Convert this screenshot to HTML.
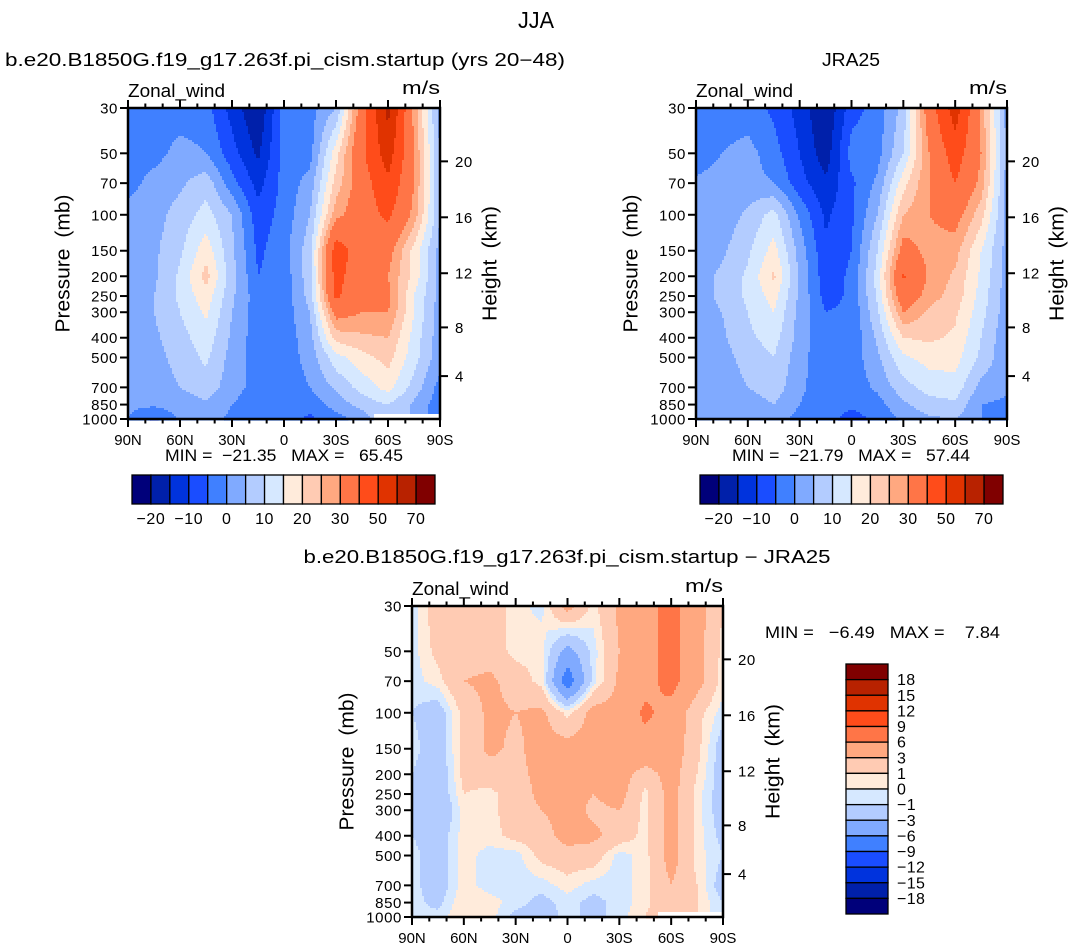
<!DOCTYPE html>
<html><head><meta charset="utf-8"><style>
html,body{margin:0;padding:0;background:#fff}
svg{display:block;font-family:"Liberation Sans",sans-serif}
</style></head><body>
<svg id="fig" width="1073" height="949" viewBox="0 0 1073 949" xmlns="http://www.w3.org/2000/svg">
<text x="536" y="28" font-size="23" text-anchor="middle" textLength="36" lengthAdjust="spacingAndGlyphs">JJA</text>
</svg>
<script>
const lats = [90,75,60,45,30,15,0,-15,-30,-45,-60,-75,-90];
const levels = [30,50,70,100,150,200,250,300,400,500,700,850,1000];
const modelWind = [
[-3,-3,-3,-3,-12,-20,-3,-2,5,35,63,28,2],
[-3,-2,2,0,-8,-16,-3,-2,18,38,55,30,5],
[-2,2,4,8,-3,-12,-3,2,22,35,48,30,5],
[2,3,7,12,5,-8,-3,5,28,35,42,28,5],
[2,4,9,18,6,-6,-2,8,45,35,33,18,3],
[2,4,11,22,7,-5,-3,8,44,32,30,18,3],
[2,5,11,18,6,-3,-3,7,42,30,32,15,3],
[2,5,10,16,5,-3,-3,5,33,30,30,15,2],
[1,4,8,13,4,-3,-3,3,22,24,25,13,2],
[1,3,7,11,3,-3,-3,2,13,18,22,12,2],
[1,2,5,8,2,-2,-3,0,6,12,17,8,-2],
[1,1,2,4,0,-3,-3,-3,2,7,10,4,-3],
[0,-6,1,2,-1,-3,-3,-6,-2,2,null,null,null]];
const obsWind = [
[-3,-3,-3,-6,-12,-20,-7,-3,7,35,55,28,3],
[-3,0,2,-3,-10,-18,-3,-2,10,30,45,30,3],
[1,2,2,0,-8,-14,-6,1,18,30,40,28,3],
[1,2,6,12,-1,-11,-6,5,25,30,33,22,3],
[2,4,9,17,3,-9,-5,10,33,28,27,15,3],
[3,6,11,21,4,-8,-4,12,41,29,24,14,3],
[3,6,11,17,4,-7,-4,11,36,27,23,13,2],
[3,5,10,15,3,-5,-4,9,30,24,21,12,2],
[2,4,9,12,3,-4,-4,6,20,21,19,10,1],
[1,3,7,10,2,-4,-3,4,14,17,17,9,1],
[1,2,5,8,1,-3,-3,1,8,12,13,3,1],
[1,1,2,5,0,-3,-4,-2,4,8,9,0,-1],
[0,1,1,3,-2,-3,-7,-4,1,4,5,0,-2]];
const diffWind = [
[-0.5,2,2.5,2,0.3,-0.3,4,0.5,3.5,5,7,4,1],
[-0.5,1.5,2,2,0.5,0.5,-4,-0.5,3,5,7,4,0.5],
[-0.5,0.5,3,3.5,2,0.5,-8,-0.5,3.5,5,7,4,0.3],
[-1,-2,1.5,3.5,3,3.5,0.5,4,4,6.5,5,1.5,-0.5],
[-0.5,-2,1.5,3.5,2.5,4,4,4,6,5,4.5,1.5,-2],
[-1,-2.5,1.5,2,2.5,3.5,6,4,4,2,4,1,-2],
[-1,-2.5,1,0.5,2,3.5,4,3,4,0.5,4,0.5,-2],
[-1,-3,0.5,0.5,2,3,4,2.5,3,0.5,4,0.5,-2],
[-1,-2,0.5,0.5,1.5,2,4,3.5,2,0.5,4,0.5,-1.5],
[-0.5,-2,0.5,-0.5,-0.5,1.5,2,2,-0.5,0.5,4,0.5,-1],
[-0.5,-2,0.5,-0.5,-0.5,-0.5,0.5,-0.5,-0.5,0.5,3,1,-2],
[-0.5,-1.5,1,0.5,-0.5,-1.5,-0.5,-1.5,-0.5,0.5,3,1,-1],
[-0.5,-0.5,1,0.5,-1.5,-2,-0.5,-1.5,-0.5,1,null,null,null]];
const windLevels = [-20,-15,-10,-5,0,5,10,15,20,25,30,40,50,60,70];
const windLabels = ["-20","-10","0","10","20","30","50","70"];
const diffLevels = [-18,-15,-12,-9,-6,-3,-1,0,1,3,6,9,12,15,18];
const latTicks = [90,60,30,0,-30,-60,-90];
const latTickLabels = ["90N","60N","30N","0","30S","60S","90S"];
const heightTicks = [4,8,12,16,20];
const palette = ['#00007a','#0020aa','#0033dd','#1a4dff','#4080ff','#80aaff','#b3ccff','#d6e8ff','#ffebdb','#ffcbb3','#ffa880','#ff7547','#ff4c1a','#e03300','#b82200','#800000'];

const NS='http://www.w3.org/2000/svg';
const svg=document.getElementById('fig');
function mk(tag,attrs,parent){const e=document.createElementNS(NS,tag);for(const k in attrs)e.setAttribute(k,attrs[k]);(parent||svg).appendChild(e);return e;}
function txt(s,attrs,parent){const e=mk('text',attrs,parent);e.textContent=s;return e;}
function colorIdx(v,b){let i=0;while(i<b.length&&v>=b[i])i++;return i;}
function fmtMinus(s){return s.replace('-','\u2212');}
function pToKm(z){return z<=11?1013.25*Math.pow(1-2.25577e-5*z*1000,5.25588):226.32*Math.exp(-(z*1000-11000)/6341.6);}

function panel(opt){
  const {x0,x1,y0,y1,vals,bounds,name}=opt;
  const g=mk('g',{});
  
  
  const lp0=Math.log(30),lp1=Math.log(1000);
  const xScale=lat=>x0+(90-lat)/180*(x1-x0);
  const yScale=p=>y0+(Math.log(p)-lp0)/(lp1-lp0)*(y1-y0);
  const logL=levels.map(Math.log);
  const step=2;
  const field=mk('g',{},g);
  
  
  for(let py=y0;py<y1;py+=step){
    const lp=lp0+(py+step/2-y0)/(y1-y0)*(lp1-lp0);
    let j=0;while(j<levels.length-2&&lp>logL[j+1])j++;
    const t=Math.min(1,Math.max(0,(lp-logL[j])/(logL[j+1]-logL[j])));
    let runStart=x0,runC=null;
    const flush=(xe)=>{if(runC!==null&&xe>runStart){const r=mk('rect',{x:runStart,y:py,width:xe-runStart+0.6,height:step+0.6,fill:runC},field);}};
    for(let px=x0;px<x1;px+=step){
      const fl=90-(px+step/2-x0)/(x1-x0)*180;
      let i=Math.floor((90-fl)/15);if(i>11)i=11;if(i<0)i=0;
      const s=((90-fl)-i*15)/15;
      let a=vals[j][i],b=vals[j][i+1],c=vals[j+1][i],d=vals[j+1][i+1];
      let col;
      const near=s<0.5?c:d;
      if(j+1===levels.length-1&&t>0.72&&near===null){col='#ffffff';}
      else{
        if(c===null)c=a; if(d===null)d=b;
        const v=(a*(1-s)+b*s)*(1-t)+(c*(1-s)+d*s)*t;
        col=palette[colorIdx(v,bounds)];
      }
      if(col!==runC){flush(px);runStart=px;runC=col;}
    }
    flush(x1);
  }
  const fr=mk('rect',{x:x0,y:y0,width:x1-x0,height:y1-y0,fill:'none',stroke:'#000','stroke-width':2.5},g);
  
  for(let lat=90;lat>=-90;lat-=10){
    const x=xScale(lat);const maj=lat%30===0;const L=maj?8:4.5;
    mk('line',{x1:x,y1:y1,x2:x,y2:y1+L,stroke:'#000','stroke-width':2},g);
    mk('line',{x1:x,y1:y0,x2:x,y2:y0-L,stroke:'#000','stroke-width':2},g);
  }
  latTicks.forEach((lat,k)=>{
    const t=txt(latTickLabels[k],{x:xScale(lat),y:y1+26,'font-size':15,'text-anchor':'middle'},g);
    
  });
  levels.forEach(p=>{
    const y=yScale(p);
    mk('line',{x1:x0,y1:y,x2:x0-8,y2:y,stroke:'#000','stroke-width':2},g);
    const t=txt(String(p),{x:x0-10,y:y+5.5,'font-size':15,'text-anchor':'end','letter-spacing':0.6},g);
    
  });
  heightTicks.forEach(z=>{
    const y=yScale(pToKm(z));
    mk('line',{x1:x1,y1:y,x2:x1+8,y2:y,stroke:'#000','stroke-width':2},g);
    const t=txt(String(z),{x:x1+15,y:y+5.5,'font-size':15,'letter-spacing':0.5},g);
    
  });
  const cy=(y0+y1)/2;
  const pl=txt('Pressure (mb)',{x:x0-64,y:cy,'font-size':20,'text-anchor':'middle',transform:`rotate(-90 ${x0-64} ${cy})`,'dominant-baseline':'middle','word-spacing':5,textLength:138,lengthAdjust:'spacingAndGlyphs'},g);
  
  const hl=txt('Height (km)',{x:x1+51,y:cy,'font-size':20,'text-anchor':'middle',transform:`rotate(-90 ${x1+51} ${cy})`,'dominant-baseline':'middle','word-spacing':5,textLength:115,lengthAdjust:'spacingAndGlyphs'},g);
  
  const zw=txt('Zonal_wind',{x:x0,y:y0-11,'font-size':18,textLength:97,lengthAdjust:'spacingAndGlyphs'},g);
  
  const un=txt('m/s',{x:x1-38,y:y0-14,'font-size':18,textLength:38,lengthAdjust:'spacingAndGlyphs'},g);
  
  const tt=txt(opt.title,{x:opt.titleX,y:opt.titleY,'font-size':18,'text-anchor':'middle',textLength:opt.titleLen,lengthAdjust:'spacingAndGlyphs'},g);
  
  const mm=txt(opt.minmax,{x:opt.mmX,y:opt.mmY,'font-size':17,'text-anchor':opt.mmAnchor,textLength:opt.mmLen,lengthAdjust:'spacingAndGlyphs'},g);
  
  mm.style.whiteSpace='pre';
}

function hColorbar(x0,y0,w,h,name){
  const g=mk('g',{});
  
  const bw=w/palette.length;
  palette.forEach((c,i)=>{
    const r=mk('rect',{x:x0+i*bw,y:y0,width:bw,height:h,fill:c,stroke:'#000','stroke-width':1.3},g);
    
  });
  windLabels.forEach((s)=>{
    const bi=windLevels.indexOf(Number(s));
    const t=txt(fmtMinus(s),{x:x0+(bi+1)*bw,y:y0+h+20,'font-size':16,'text-anchor':'middle','letter-spacing':0.6},g);
    
  });
}
function vColorbar(x0,y0,w,h,name){
  const g=mk('g',{});
  
  const bh=h/palette.length;
  for(let i=0;i<palette.length;i++){
    const r=mk('rect',{x:x0,y:y0+i*bh,width:w,height:bh,fill:palette[palette.length-1-i],stroke:'#000','stroke-width':1.3},g);
    
  }
  for(let k=0;k<diffLevels.length;k++){
    const v=diffLevels[diffLevels.length-1-k];
    const t=txt(fmtMinus(String(v)),{x:x0+w+9,y:y0+(k+1)*bh+5.5,'font-size':16,'letter-spacing':0.4},g);
    
  }
}

panel({x0:128,x1:440,y0:108,y1:419,vals:modelWind,bounds:windLevels,name:'model-panel',
  title:'b.e20.B1850G.f19_g17.263f.pi_cism.startup (yrs 20\u221248)',titleX:285,titleY:66,titleLen:560,
  minmax:'MIN =  \u221221.35   MAX =   65.45',mmX:284,mmY:461,mmAnchor:'middle',mmLen:238});
panel({x0:696,x1:1007,y0:108,y1:419,vals:obsWind,bounds:windLevels,name:'jra25-panel',
  title:'JRA25',titleX:851,titleY:66,titleLen:58,
  minmax:'MIN =  \u221221.79   MAX =   57.44',mmX:851,mmY:461,mmAnchor:'middle',mmLen:238});
panel({x0:412,x1:723,y0:606,y1:917,vals:diffWind,bounds:diffLevels,name:'difference-panel',
  title:'b.e20.B1850G.f19_g17.263f.pi_cism.startup \u2212 JRA25',titleX:567,titleY:563,titleLen:527,
  minmax:'MIN =   \u22126.49   MAX =    7.84',mmX:765,mmY:638,mmAnchor:'start',mmLen:235});
hColorbar(132,475,303,29,'model-colorbar');
hColorbar(700,475,303,29,'jra25-colorbar');
vColorbar(846,664,42,250,'difference-colorbar');
</script>
</body></html>
